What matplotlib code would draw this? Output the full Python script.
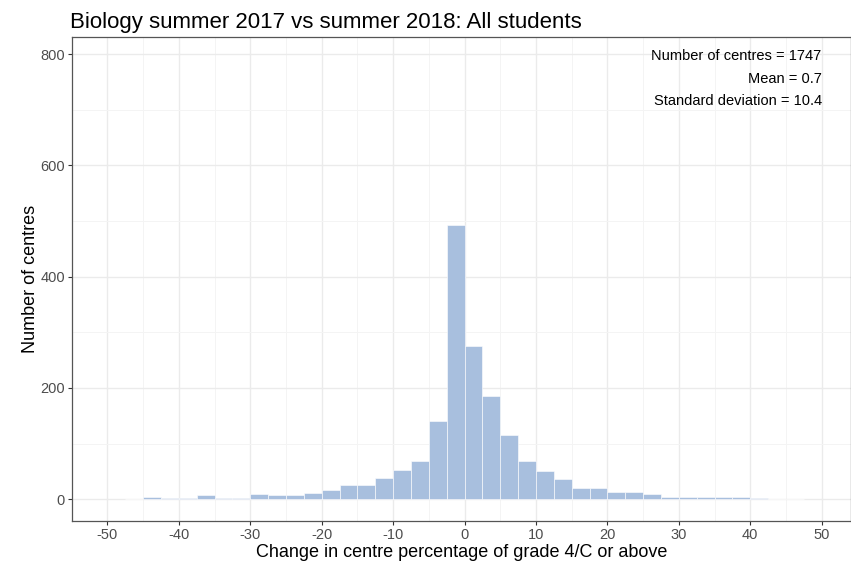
import numpy as np
import matplotlib
matplotlib.use("Agg")
import matplotlib.pyplot as plt
from matplotlib.ticker import MultipleLocator

plt.rcParams['font.family'] = ['Liberation Sans', 'DejaVu Sans']
plt.rcParams['axes.unicode_minus'] = False

# bin left edges (width 2.5) and counts
bin_width = 2.5
bin_left = np.arange(-47.5, 47.5, bin_width)
counts = [1, 5, 3, 3, 8, 3, 3, 9, 8, 7,
          12, 16, 25, 26, 38, 52, 69, 140, 493, 275,
          185, 115, 69, 51, 37, 20, 21, 14, 14, 9,
          4, 5, 4, 5, 5, 2, 1, 1]

x_ticks = list(range(-50, 51, 10))
y_ticks = [0, 200, 400, 600, 800]
stats_lines = ["Number of centres = 1747", "Mean = 0.7", "Standard deviation = 10.4"]

fig = plt.figure(figsize=(8.51, 5.66), dpi=100)
ax = fig.add_axes([0.0843, 0.080, 0.9157, 0.854])

ax.bar(bin_left, counts, width=bin_width, align='edge',
       color='#A8BFDE', edgecolor='white', linewidth=0.4, zorder=3)

ax.set_xlim(-55.0, 54.1)
ax.set_ylim(-38.5, 830)
ax.set_xticks(x_ticks)
ax.set_yticks(y_ticks)
ax.xaxis.set_minor_locator(MultipleLocator(5))
ax.yaxis.set_minor_locator(MultipleLocator(100))
ax.grid(which='major', color='#EBEBEB', linewidth=1.0, zorder=0)
ax.grid(which='minor', color='#F4F4F4', linewidth=0.7, zorder=0)
ax.tick_params(which='minor', length=0)
ax.tick_params(which='major', length=3, width=0.8, color='#333333',
               labelcolor='#4D4D4D', labelsize=10.5, pad=2)
for s in ax.spines.values():
    s.set_color('#555555')
    s.set_linewidth(0.9)

ax.set_xlabel("Change in centre percentage of grade 4/C or above", fontsize=13, labelpad=2)
ax.set_ylabel("Number of centres", fontsize=13, labelpad=1)
ax.set_title("Biology summer 2017 vs summer 2018: All students", fontsize=16,
             loc='left', x=-0.002, pad=7)

for i, line in enumerate(stats_lines):
    ax.text(50, 796 - 40 * i, line, ha='right', va='center',
            fontsize=10.5, color='black', zorder=5)

fig.savefig("out.png", dpi=100)
